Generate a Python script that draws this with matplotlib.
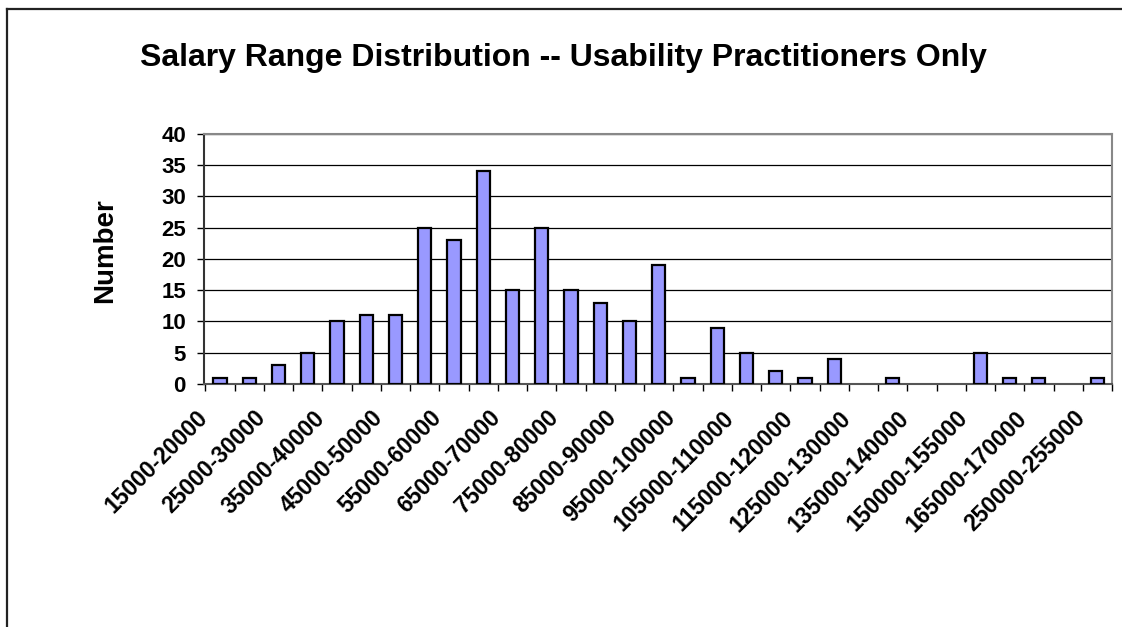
import numpy as np
import matplotlib.pyplot as plt
from matplotlib.lines import Line2D

# salary ranges (every other label is shown on the axis)
ranges = ["15000-20000", "20000-25000", "25000-30000", "30000-35000",
          "35000-40000", "40000-45000", "45000-50000", "50000-55000",
          "55000-60000", "60000-65000", "65000-70000", "70000-75000",
          "75000-80000", "80000-85000", "85000-90000", "90000-95000",
          "95000-100000", "100000-105000", "105000-110000", "110000-115000",
          "115000-120000", "120000-125000", "125000-130000", "130000-135000",
          "135000-140000", "140000-145000", "150000-155000", "155000-160000",
          "165000-170000", "200000-205000", "250000-255000"]
counts = [1, 1, 3, 5, 10, 11, 11, 25, 23, 34, 15, 25, 15, 13, 10, 19,
          1, 9, 5, 2, 1, 4, 0, 1, 0, 0, 5, 1, 1, 0, 1]
yticks = [0, 5, 10, 15, 20, 25, 30, 35, 40]

plt.rcParams['font.family'] = ['Liberation Sans', 'DejaVu Sans']
plt.rcParams['font.weight'] = 'bold'

fig = plt.figure(figsize=(11.22, 6.27), dpi=100)
ax = fig.add_axes([0.1818, 0.3876, 0.8093, 0.3987])

x = np.arange(len(ranges))
# empty ranges draw nothing (no flat outline)
heights = np.where(np.array(counts) == 0, np.nan, counts)
ax.bar(x, heights, width=0.45, color='#9999FF', edgecolor='black',
       linewidth=1.6, zorder=3)

ax.set_xlim(-0.5, len(ranges) - 0.5)
ax.set_ylim(0, 40)
ax.set_yticks(yticks)
ax.set_yticklabels([str(v) for v in yticks], fontsize=16, fontweight='bold')
ax.yaxis.grid(True, color='black', linewidth=0.9, zorder=0)
ax.set_axisbelow(True)

# labels on every other category (ending just left of the bar),
# ticks on category boundaries
ax.set_xticks(x[::2] - 0.55)
ax.set_xticklabels(ranges[::2], rotation=45, ha='right', va='center',
                   rotation_mode='anchor', fontsize=16.5, fontweight='bold')
ax.set_xticks(np.arange(-0.5, len(ranges)), minor=True)
ax.tick_params(axis='x', which='major', length=0, pad=22)
ax.tick_params(axis='x', which='minor', length=5, width=1, color='black',
               direction='out')
ax.tick_params(axis='y', length=5, width=1, direction='out', pad=8)

ax.spines['left'].set_color('#333333')
ax.spines['bottom'].set_color('#555555')
ax.spines['top'].set_color('#888888')
ax.spines['right'].set_color('#888888')
for s in ax.spines.values():
    s.set_linewidth(1.5)

ax.set_ylabel('Number', fontsize=20, fontweight='bold')
ax.yaxis.set_label_coords(-0.095, 0.532)

fig.text(0.502, 0.908, 'Salary Range Distribution -- Usability Practitioners Only',
         ha='center', va='center', fontsize=23, fontweight='bold')

# outer chart border (clipped at right and bottom)
fig.add_artist(Line2D([7 / 1122, 1.0], [1 - 9 / 627, 1 - 9 / 627],
                      color='#222222', linewidth=1.6))
fig.add_artist(Line2D([7 / 1122, 7 / 1122], [0.0, 1 - 9 / 627],
                      color='#222222', linewidth=1.6))

fig.savefig('out.png', dpi=100)
